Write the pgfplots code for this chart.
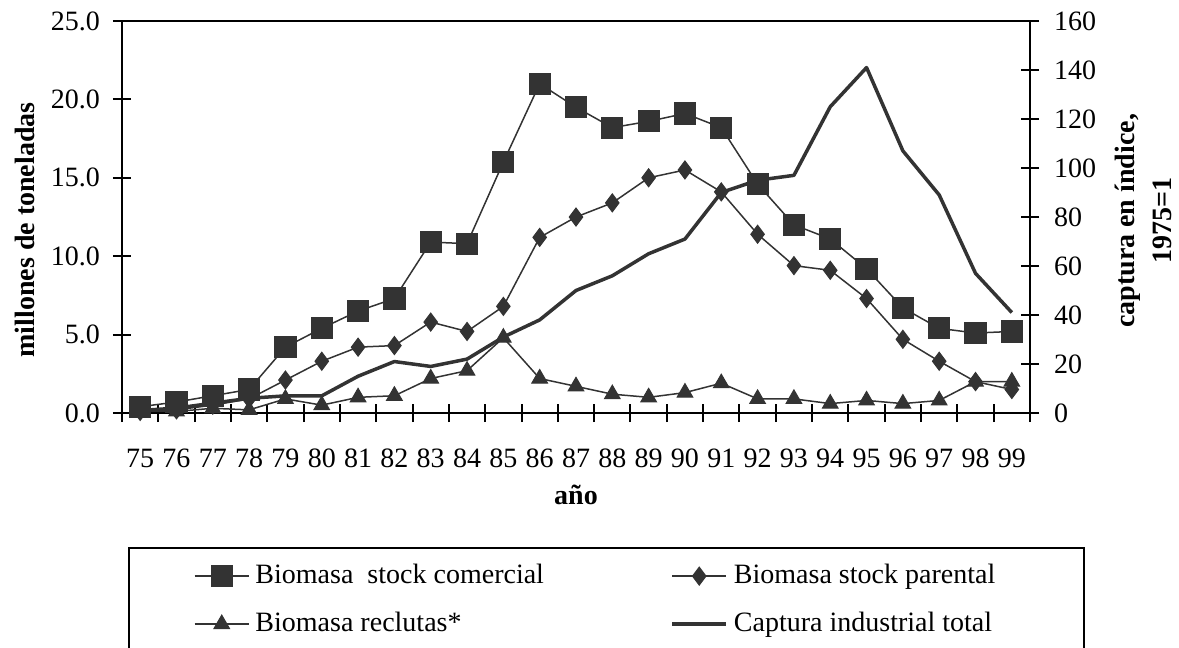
\documentclass[border=0pt]{standalone}
\usepackage{pgfplots}
\pgfplotsset{compat=1.18}
\usepackage{fontspec}
\setmainfont{Liberation Serif}
\definecolor{ser}{HTML}{333333}
\begin{document}
\begin{tikzpicture}[font=\fontsize{14bp}{16bp}\selectfont]
\useasboundingbox (-61bp,-117.5bp) rectangle (528.5bp,206.5bp);
\begin{axis}[
  at={(0,0)}, anchor=south west,
  scale only axis, width=454bp, height=196bp,
  xmin=-0.5, xmax=24.5, ymin=0, ymax=25,
  xtick={0,...,24},
  xticklabels={75,76,77,78,79,80,81,82,83,84,85,86,87,88,89,90,91,92,93,94,95,96,97,98,99},
  xticklabel style={yshift=-10bp},
  major x tick style={draw=none},
  minor xtick={-0.5,0.5,...,24.5},
  minor tick length=9bp,
  minor x tick style={black, line width=1bp},
  ytick={0,5,...,25},
  ytick pos=left, xtick pos=bottom,
  tick align=center, major tick length=9bp,
  tick style={black, line width=1bp},
  axis line style={black, line width=1bp},
  yticklabel style={xshift=-3bp, /pgf/number format/.cd, fixed, fixed zerofill, precision=1, assume math mode=true},
  ylabel={millones de toneladas},
  ylabel style={font=\fontsize{14bp}{16bp}\selectfont\bfseries, at={(axis description cs:-0.1066,0.467)}, anchor=center},
  xlabel={año},
  xlabel style={font=\fontsize{14bp}{16bp}\selectfont\bfseries, at={(axis description cs:0.5,-0.209)}, anchor=center},
  legend columns=2,
  legend image code/.code={\draw[mark repeat=2,mark phase=2] plot coordinates {(0bp,0bp) (13.5bp,0bp) (27bp,0bp)};},
  legend style={at={(axis description cs:0.0066,-0.3406)}, anchor=north west,
    draw=black, line width=1bp, inner xsep=32.5bp, inner ysep=7.8bp, row sep=5bp,
    nodes={inner sep=0pt, text height=10bp, text depth=3bp},
    /tikz/every odd column/.append style={column sep=3bp},
    /tikz/every even column/.append style={column sep=0bp},
    font=\fontsize{14bp}{16bp}\selectfont},
  legend cell align=left,
]
\addplot[color=ser, line width=0.75bp, mark=square*, mark size=5.3bp, mark options={solid, line width=0.5bp}] coordinates {
(0,0.4) (1,0.7) (2,1.1) (3,1.5) (4,4.2) (5,5.4) (6,6.5) (7,7.3) (8,10.9) (9,10.8) (10,16.0) (11,21.0) (12,19.5) (13,18.2) (14,18.6) (15,19.1) (16,18.2) (17,14.6) (18,12.0) (19,11.1) (20,9.2) (21,6.7) (22,5.4) (23,5.1) (24,5.2)};
\addlegendentry{\makebox[207.5bp][l]{Biomasa\ \ stock comercial}}
\addplot[color=ser, line width=0.75bp, mark=diamond*, mark size=4.5bp, mark options={solid, line width=0.5bp}] coordinates {
(0,0.1) (1,0.2) (2,0.5) (3,0.9) (4,2.1) (5,3.3) (6,4.2) (7,4.3) (8,5.8) (9,5.2) (10,6.8) (11,11.2) (12,12.5) (13,13.4) (14,15.0) (15,15.5) (16,14.1) (17,11.4) (18,9.4) (19,9.1) (20,7.3) (21,4.7) (22,3.3) (23,2.0) (24,1.5)};
\addlegendentry{\makebox[142.5bp][l]{Biomasa stock parental}}
\addplot[color=ser, line width=0.75bp, mark=triangle*, mark size=4.5bp, mark options={solid, line width=0.5bp}] coordinates {
(0,0.1) (1,0.1) (2,0.3) (3,0.2) (4,0.9) (5,0.5) (6,1.0) (7,1.1) (8,2.2) (9,2.7) (10,4.8) (11,2.2) (12,1.7) (13,1.2) (14,1.0) (15,1.3) (16,1.9) (17,0.9) (18,0.9) (19,0.6) (20,0.8) (21,0.6) (22,0.8) (23,2.0) (24,2.0)};
\addlegendentry[text height=16bp, text depth=9bp]{\makebox[207.5bp][l]{Biomasa reclutas*}}
\addlegendimage{color=ser, line width=1.75bp}
\addlegendentry[text height=16bp, text depth=9bp]{\makebox[142.5bp][l]{Captura industrial total}}
\end{axis}
\begin{axis}[
  at={(0,0)}, anchor=south west,
  scale only axis, width=454bp, height=196bp,
  xmin=-0.5, xmax=24.5, ymin=0, ymax=160,
  axis x line=none, axis y line*=right,
  ytick={0,20,...,160},
  tick align=center, major tick length=9bp,
  tick style={black, line width=1bp},
  axis line style={black, line width=1bp},
  yticklabel style={xshift=4bp, /pgf/number format/assume math mode=true},
  ylabel={captura en índice,\\[4bp]1975=1},
  ylabel style={font=\fontsize{14bp}{14.5bp}\selectfont\bfseries, align=center, at={(axis description cs:1.1245,0.49)}, anchor=center},
]
\addplot[color=ser, line width=1.75bp, line join=round] coordinates {
(0,1) (1,2) (2,4) (3,6) (4,7) (5,7) (6,15) (7,21) (8,19) (9,22) (10,31) (11,38) (12,50) (13,56) (14,65) (15,71) (16,90) (17,95) (18,97) (19,125) (20,141) (21,107) (22,89) (23,57) (24,41)};
\end{axis}
\end{tikzpicture}
\end{document}
